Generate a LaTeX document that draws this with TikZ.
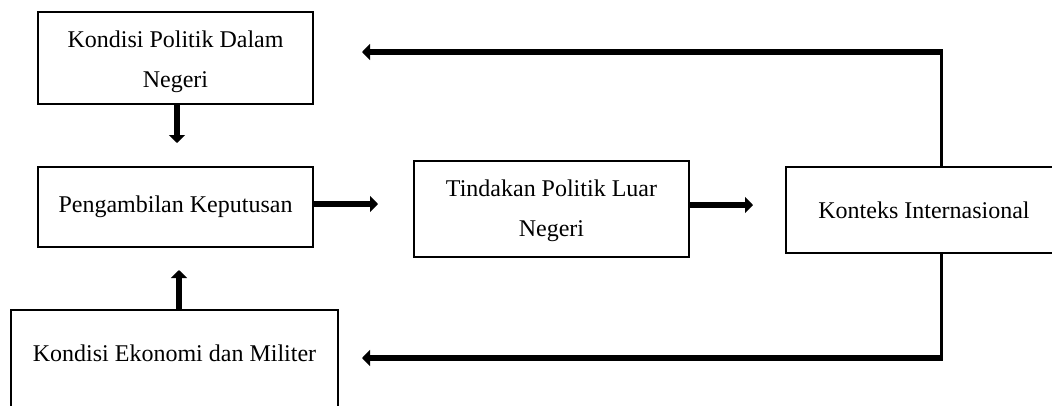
\documentclass[tikz,border=0pt]{standalone}
\usepackage{fontspec}
\setmainfont{Liberation Serif}
\usetikzlibrary{arrows.meta}
\begin{document}
\begin{tikzpicture}[x=1pt,y=-1pt,
  box/.style={draw,line width=1.6pt,inner sep=0pt,align=center,
    font=\fontsize{24}{40}\selectfont},
  fat/.style={line width=6pt,-{Triangle[length=8pt,width=16pt]}},
  thin/.style={line width=3pt}]
\clip (0,0) rectangle (1052,405);
\node[box,minimum width=275pt,minimum height=92pt] (kp) at (175.5,58) {\rule{0pt}{25pt}Kondisi Politik Dalam\\Negeri};
\node[box,minimum width=275pt,minimum height=80pt] (pk) at (175.5,207) {Pengambilan Keputusan};
\node[box,minimum width=275pt,minimum height=96pt] (tp) at (551.5,209) {\rule{0pt}{20pt}Tindakan Politik Luar\\Negeri};
\node[box,minimum width=276pt,minimum height=86pt] (ki) at (924,210) {Konteks Internasional};
\node[box,minimum width=327pt,minimum height=110pt,text height=17pt,text depth=25pt] (ke) at (174.5,365) {Kondisi Ekonomi dan Militer};
\coordinate (a1) at (177,143);
\coordinate (a2) at (179,270);
\coordinate (a3) at (378,204);
\coordinate (a4) at (753,205);
\coordinate (ct) at (941,52);
\coordinate (cb) at (941,358);
\coordinate (et) at (362,52);
\coordinate (eb) at (362,358);
\draw[fat] (kp.south -| a1) -- (a1);
\draw[fat] (ke.north -| a2) -- (a2);
\draw[fat] (pk.east |- a3) -- (a3);
\draw[fat] (tp.east |- a4) -- (a4);
\draw[thin] (ki.north -| ct) -- ([yshift=-3pt]ct);
\draw[thin] (ki.south -| cb) -- ([yshift=3pt]cb);
\draw[fat] ([xshift=1.5pt]ct) -- (et);
\draw[fat] ([xshift=1.5pt]cb) -- (eb);
\end{tikzpicture}
\end{document}
